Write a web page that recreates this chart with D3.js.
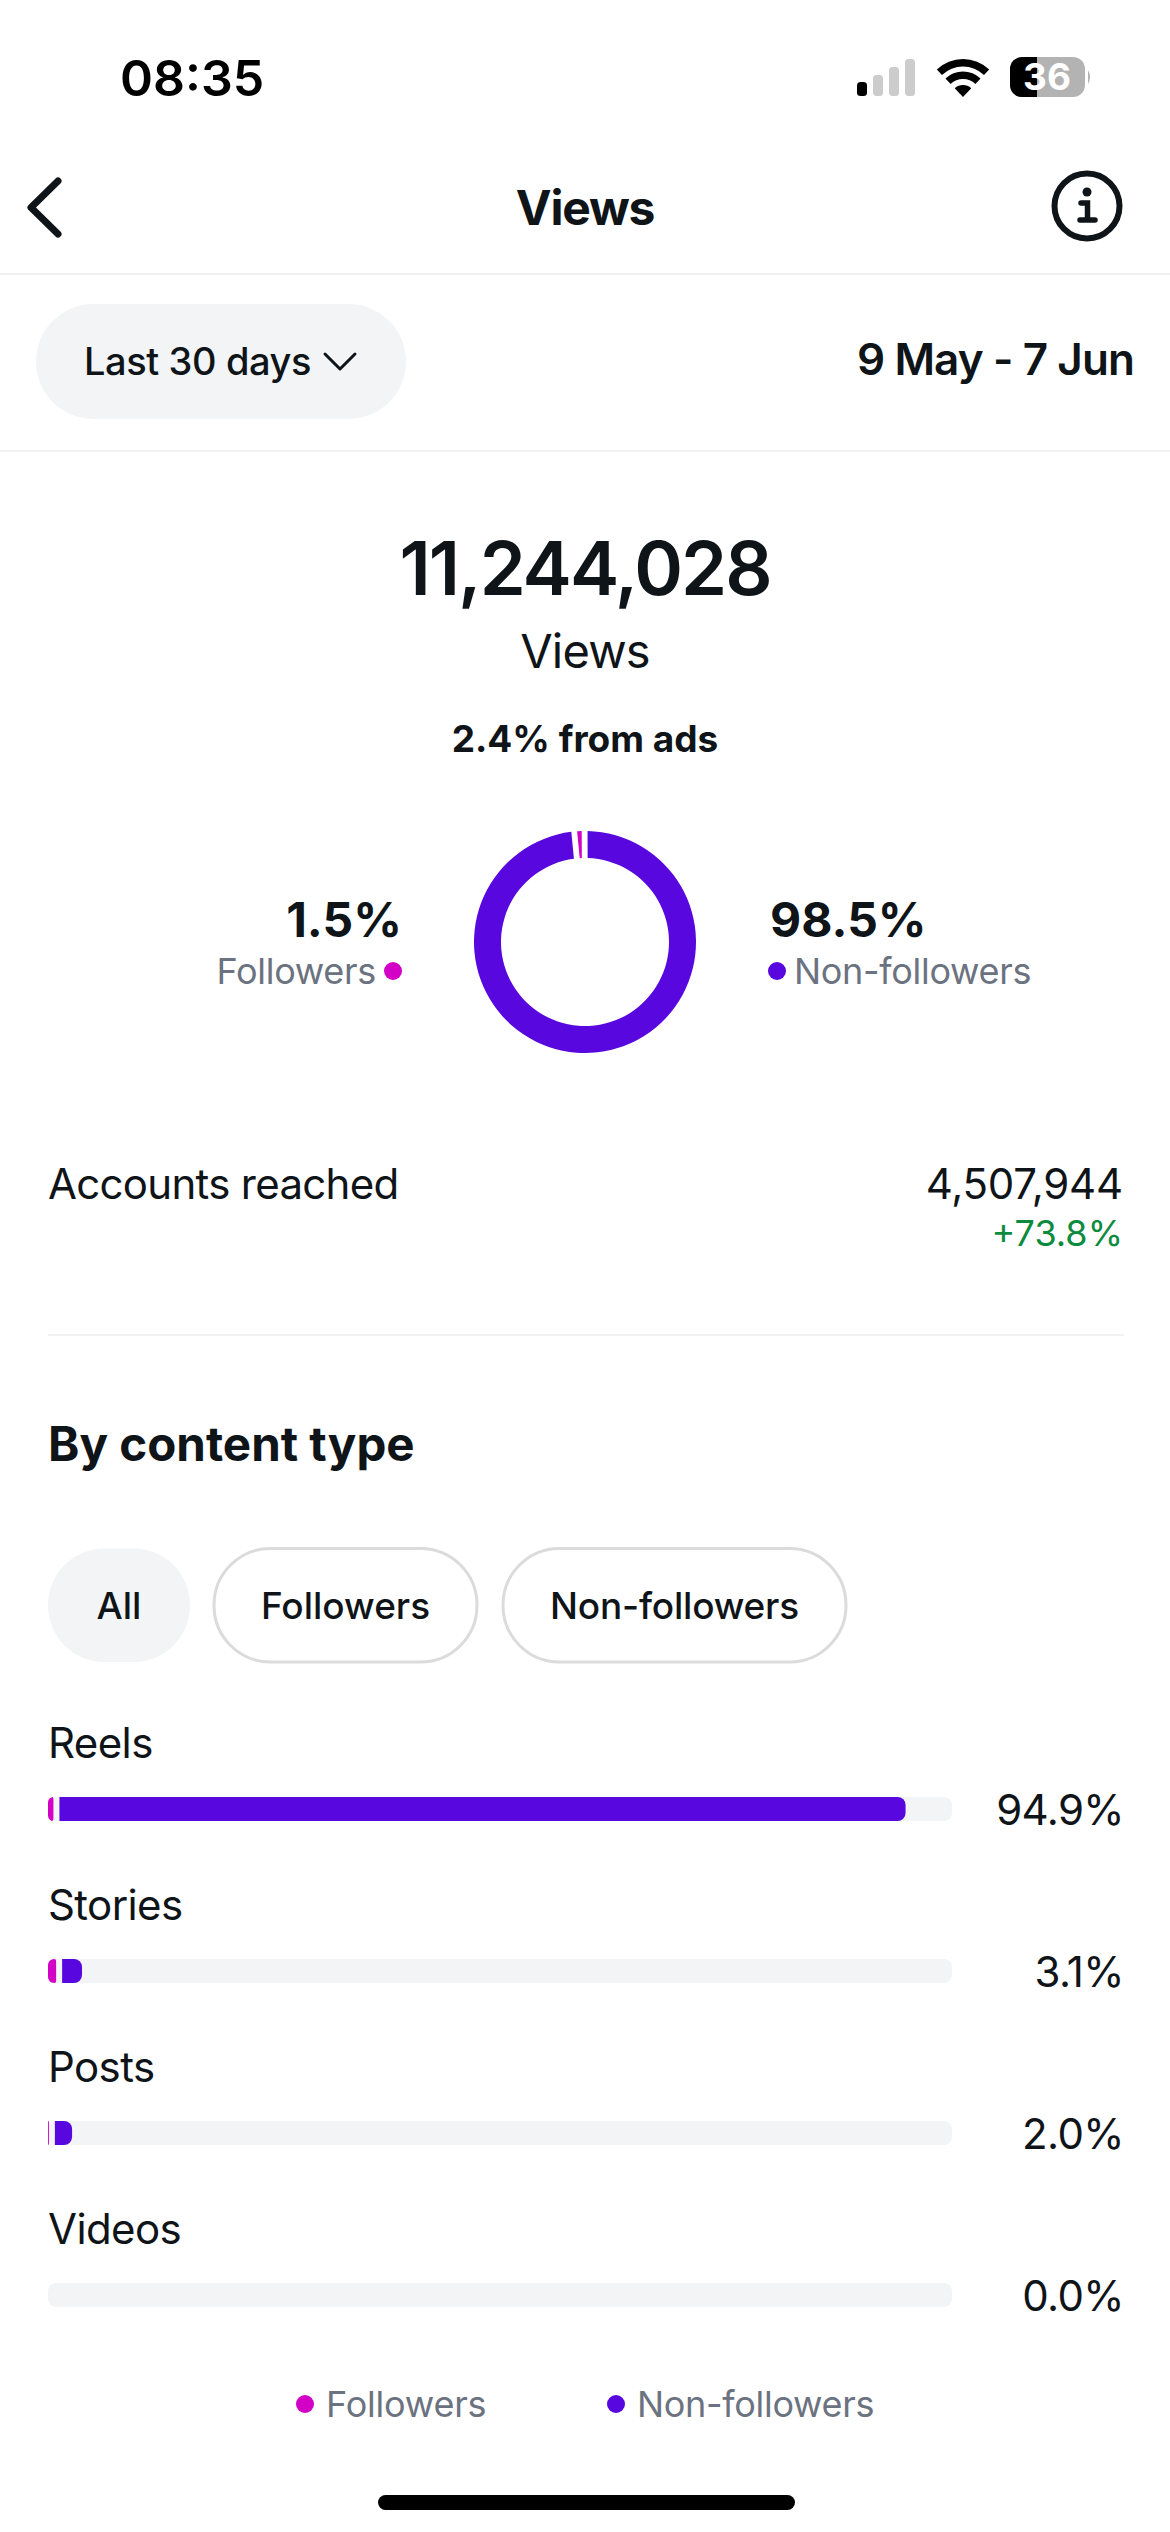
<!DOCTYPE html>
<html>
<head>
<meta charset="utf-8">
<script src="https://d3js.org/d3.v7.min.js"></script>
<style>
  html, body { margin: 0; padding: 0; background: #fff; }
  svg { display: block; font-family: Inter, "Noto Sans", sans-serif; }
</style>
</head>
<body>
<svg id="screen" width="1170" height="2532"></svg>
<script>
// donut
const shareLabels = ["Followers", "Non-followers"];
const shareValues = [1.5, 98.5];

// content type bars
const categories = ["Reels", "Stories", "Posts", "Videos"];
const followerValues = [0.6, 0.9, 0.1, 0];
const nonFollowerValues = [93.6, 2.2, 1.9, 0];
const totalLabels = ["94.9%", "3.1%", "2.0%", "0.0%"];

const filterLabels = ["All", "Followers", "Non-followers"];

const PINK = "#d300c5";
const PURPLE = "#5807de";
const INK = "#0f1419";
const GREY = "#6b7280";
const TRACK = "#f3f4f6";

const svg = d3.select("#screen");

function label(x, y, str, size, weight, fill, anchor, spacing) {
    return svg.append("text")
        .attr("x", x)
        .attr("y", y)
        .attr("text-anchor", anchor || "start")
        .style("font-size", size + "px")
        .style("font-weight", weight)
        .style("letter-spacing", (spacing || 0) + "px")
        .style("fill", fill || INK)
        .text(str);
}

function rule(y, x1, x2, color) {
    svg.append("line")
        .attr("x1", x1).attr("x2", x2)
        .attr("y1", y).attr("y2", y)
        .attr("stroke", color)
        .attr("stroke-width", 2);
}

// status bar
label(120, 96, "08:35", 50, 600, "#000");
[[857, 82, "#000"], [873, 75, "#ccc"], [889, 67, "#ccc"], [905, 59, "#ccc"]].forEach(b => {
    svg.append("rect")
        .attr("x", b[0]).attr("y", b[1])
        .attr("width", 10).attr("height", 96 - b[1])
        .attr("rx", 3.5)
        .attr("fill", b[2]);
});
const wifiArc = d3.arc().startAngle(-0.76).endAngle(0.76);
[[0, 12], [18, 25.5], [30.5, 38]].forEach(r => {
    svg.append("path")
        .attr("transform", "translate(963,97)")
        .attr("d", wifiArc({ innerRadius: r[0], outerRadius: r[1] }))
        .attr("fill", "#000");
});
svg.append("clipPath").attr("id", "batteryClip")
    .append("rect").attr("x", 1010).attr("y", 57).attr("width", 75).attr("height", 40).attr("rx", 12);
svg.append("rect").attr("x", 1010).attr("y", 57).attr("width", 75).attr("height", 40)
    .attr("clip-path", "url(#batteryClip)").attr("fill", "#b3b3b3");
svg.append("rect").attr("x", 1010).attr("y", 57).attr("width", 27).attr("height", 40)
    .attr("clip-path", "url(#batteryClip)").attr("fill", "#000");
svg.append("path").attr("d", "M1088 70 Q1092 77 1088 84 Z").attr("fill", "#b3b3b3");
label(1047, 90, "36", 37, 700, "#fff", "middle");

// nav bar
svg.append("path")
    .attr("d", "M58 181 L31 207.5 L58 234")
    .attr("fill", "none").attr("stroke", INK)
    .attr("stroke-width", 7).attr("stroke-linecap", "round").attr("stroke-linejoin", "round");
label(585, 225, "Views", 48, 700, INK, "middle", -1.2);
svg.append("circle").attr("cx", 1087).attr("cy", 206).attr("r", 32.5)
    .attr("fill", "none").attr("stroke", INK).attr("stroke-width", 6);
svg.append("circle").attr("cx", 1087).attr("cy", 192).attr("r", 4.5).attr("fill", INK);
svg.append("path")
    .attr("d", "M1081 203 H1087.5 V220 M1080 220 H1095")
    .attr("fill", "none").attr("stroke", INK)
    .attr("stroke-width", 5.5).attr("stroke-linecap", "round");
rule(274, 0, 1170, "#efefef");

// date filter row
svg.append("rect").attr("x", 36).attr("y", 304).attr("width", 370).attr("height", 115)
    .attr("rx", 57.5).attr("fill", TRACK);
label(84, 375, "Last 30 days", 38, 500, INK, "start", -0.4);
svg.append("path").attr("d", "M325 354 L340 369 L355 354")
    .attr("fill", "none").attr("stroke", INK).attr("stroke-width", 3)
    .attr("stroke-linecap", "round").attr("stroke-linejoin", "round");
label(1134, 375, "9 May - 7 Jun", 44, 600, INK, "end", -0.9);
rule(451, 0, 1170, "#f2f2f2");

// headline
label(585, 595, "11,244,028", 74, 600, INK, "middle", -2);
label(585, 668, "Views", 47, 400, INK, "middle", -0.8);
label(585, 752, "2.4% from ads", 37, 700, INK, "middle");

// donut, pink slice sits just left of 12 o'clock
const pie = d3.pie().sort(null).startAngle(-0.0975).endAngle(Math.PI * 2 - 0.0975);
const arc = d3.arc().innerRadius(84).outerRadius(111).padRadius(97).padAngle(0.06);
const shareColor = d3.scaleOrdinal().domain(shareLabels).range([PINK, PURPLE]);
svg.append("g")
    .attr("transform", "translate(585,942)")
    .selectAll("path")
    .data(pie(shareValues))
    .enter()
    .append("path")
    .attr("d", arc)
    .attr("fill", (d, i) => shareColor(shareLabels[i]));

label(402, 937, shareValues[0].toFixed(1) + "%", 48, 700, INK, "end");
label(376, 984, shareLabels[0], 36, 400, GREY, "end", -0.3);
svg.append("circle").attr("cx", 393).attr("cy", 971).attr("r", 9).attr("fill", PINK);
label(770, 937, shareValues[1].toFixed(1) + "%", 48, 700);
svg.append("circle").attr("cx", 777).attr("cy", 971).attr("r", 9).attr("fill", PURPLE);
label(794, 984, shareLabels[1], 36, 400, GREY, "start", -0.3);

// accounts reached
label(48, 1199, "Accounts reached", 42, 400, INK, "start", -0.7);
label(1123, 1199, "4,507,944", 42, 400, INK, "end", -0.2);
label(1123, 1246, "+73.8%", 36, 400, "#0c8a3e", "end");
rule(1335, 48, 1124, "#f2f2f2");

// by content type
label(48, 1461, "By content type", 47.5, 700);

const pillX = [48, 214, 503];
const pillW = [142, 263, 343];
const pillSpacing = [0, 0, -0.2];
filterLabels.forEach((name, i) => {
    const active = i === 0;
    svg.append("rect")
        .attr("x", pillX[i]).attr("y", 1548.5)
        .attr("width", pillW[i]).attr("height", 113.5)
        .attr("rx", 56.5)
        .attr("fill", active ? TRACK : "#fff")
        .attr("stroke", active ? "none" : "#dbdbdb")
        .attr("stroke-width", 3);
    label(pillX[i] + pillW[i] / 2, 1619, name, 37, 500, INK, "middle", pillSpacing[i]);
});

// bars
const x = d3.scaleLinear().domain([0, 100]).range([48, 952]);
const y = d3.scalePoint().domain(categories).range([1797, 2283]);
const barH = 24;
const barGap = 6;

// bar with its own corner radii on the left and right side
function roundedBar(x0, x1, top, rLeft, rRight) {
    const p = d3.path();
    p.moveTo(x0 + rLeft, top);
    p.lineTo(x1 - rRight, top);
    p.arcTo(x1, top, x1, top + rRight, rRight);
    p.lineTo(x1, top + barH - rRight);
    p.arcTo(x1, top + barH, x1 - rRight, top + barH, rRight);
    p.lineTo(x0 + rLeft, top + barH);
    p.arcTo(x0, top + barH, x0, top + barH - rLeft, rLeft);
    p.lineTo(x0, top + rLeft);
    p.arcTo(x0, top, x0 + rLeft, top, rLeft);
    p.closePath();
    return p.toString();
}

const rows = svg.selectAll(".row")
    .data(categories)
    .enter()
    .append("g")
    .attr("class", "row");

rows.append("text")
    .attr("x", 48)
    .attr("y", d => y(d) - 39)
    .style("font-size", "42px")
    .style("letter-spacing", "-0.6px")
    .style("fill", INK)
    .text(d => d);

rows.append("rect")
    .attr("x", x(0))
    .attr("y", d => y(d))
    .attr("width", x(100) - x(0))
    .attr("height", barH)
    .attr("rx", 8)
    .attr("fill", TRACK);

rows.append("path")
    .filter((d, i) => followerValues[i] > 0)
    .attr("d", d => {
        const v = followerValues[categories.indexOf(d)];
        const r = Math.min(6, x(v) - x(0));
        return roundedBar(x(0), x(v), y(d), r, Math.min(2, r));
    })
    .attr("fill", PINK);

rows.append("path")
    .filter((d, i) => nonFollowerValues[i] > 0)
    .attr("d", d => {
        const i = categories.indexOf(d);
        const start = x(followerValues[i]) + barGap;
        const end = start + x(nonFollowerValues[i]) - x(0);
        return roundedBar(start, end, y(d), 0, 8);
    })
    .attr("fill", PURPLE);

rows.append("text")
    .attr("x", 1124)
    .attr("y", d => y(d) + 28)
    .attr("text-anchor", "end")
    .style("font-size", "42px")
    .style("letter-spacing", "-0.6px")
    .style("fill", INK)
    .text((d, i) => totalLabels[i]);

// legend
svg.append("circle").attr("cx", 305).attr("cy", 2404).attr("r", 9).attr("fill", PINK);
label(326, 2417, shareLabels[0], 36, 400, GREY, "start", -0.2);
svg.append("circle").attr("cx", 616).attr("cy", 2404).attr("r", 9).attr("fill", PURPLE);
label(637, 2417, shareLabels[1], 36, 400, GREY, "start", -0.3);

// home indicator
svg.append("rect").attr("x", 378).attr("y", 2495).attr("width", 417).attr("height", 15)
    .attr("rx", 7.5).attr("fill", "#000");
</script>
</body>
</html>
